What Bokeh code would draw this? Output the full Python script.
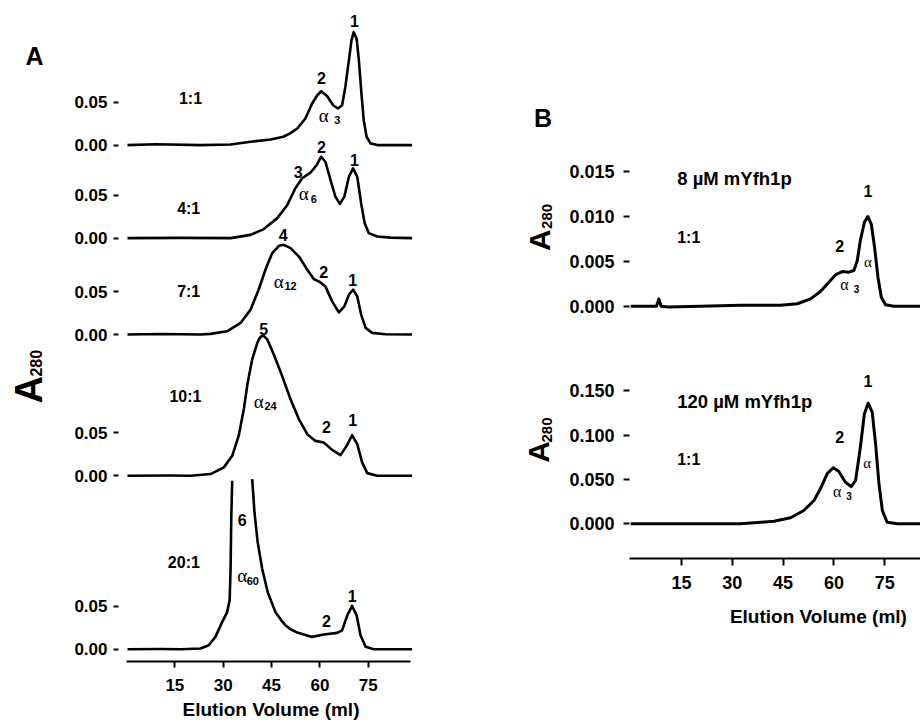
import numpy as np
from bokeh.plotting import figure
from bokeh.models import Range1d, FixedTicker, Label, NumeralTickFormatter
from bokeh.layouts import row, column
from bokeh.embed import file_html
from bokeh.resources import INLINE

SANS = "Liberation Sans"
SERIF = "Liberation Serif"

# ---------------- data: panel A (elution volume in ml, A280) ----------------
ratios = ["1:1", "4:1", "7:1", "10:1", "20:1"]
a_ticks_x = [15, 30, 45, 60, 75]

r1_x = [0.3, 9.0, 23.0, 32.3, 38.5, 44.7, 48.7, 50.9, 53.0, 55.5, 57.6, 59.2, 60.4, 62.3, 64.1,
        65.6, 66.9, 67.9, 69.0, 69.8, 70.5, 71.4, 72.1, 72.9, 73.6, 74.5, 75.7, 77.8, 88.6]
r1_y = [0.0, 0.001, 0.0, 0.0006, 0.0038, 0.0066, 0.0097, 0.014, 0.0194, 0.031, 0.0485, 0.0581,
        0.0628, 0.057, 0.0465, 0.0427, 0.0465, 0.0678, 0.0988, 0.1221, 0.1317, 0.1241, 0.0988,
        0.0601, 0.0291, 0.0097, 0.002, 0.0, 0.0]

r4_x = [0.3, 16.8, 32.3, 38.5, 42.6, 46.8, 49.9, 52.4, 54.5, 57.1, 59.0, 60.4, 61.7, 63.3, 64.8,
        66.2, 67.6, 69.0, 70.3, 71.6, 72.8, 73.9, 75.2, 77.8, 81.9, 88.6]
r4_y = [0.0, 0.0003, 0.0, 0.0038, 0.0105, 0.0233, 0.0387, 0.0581, 0.0698, 0.0763, 0.0852, 0.0949,
        0.0891, 0.0678, 0.0484, 0.0399, 0.0484, 0.0716, 0.0814, 0.0716, 0.0407, 0.0174, 0.0058,
        0.0019, 0.0006, 0.0]

r7_x = [0.3, 10.5, 23.0, 26.1, 31.2, 35.4, 38.5, 41.0, 43.1, 45.2, 47.3, 48.8, 50.9, 53.5, 56.1,
        58.1, 60.2, 61.7, 63.8, 65.9, 67.6, 69.0, 70.3, 71.6, 72.8, 74.2, 76.2, 80.4, 88.6]
r7_y = [0.0, 0.0006, 0.0, 0.0008, 0.0038, 0.0136, 0.0291, 0.0523, 0.0756, 0.095, 0.1035, 0.1047,
        0.1008, 0.091, 0.0756, 0.0648, 0.0608, 0.0562, 0.0387, 0.0259, 0.0329, 0.0465, 0.0523,
        0.0445, 0.0233, 0.0078, 0.002, 0.0003, 0.0]

r10_x = [0.3, 13.7, 19.9, 26.1, 30.2, 32.8, 34.8, 36.4, 37.6, 39.0, 40.6, 41.3, 42.1, 42.8, 43.7,
         45.7, 48.3, 50.9, 53.5, 56.1, 58.6, 61.2, 63.8, 66.4, 68.3, 70.0, 71.6, 73.1, 74.7, 77.8,
         88.6]
r10_y = [0.0, 0.0003, 0.0, 0.002, 0.0098, 0.0233, 0.0465, 0.0776, 0.1086, 0.1357, 0.1551, 0.1605,
         0.1636, 0.1624, 0.159, 0.1415, 0.1163, 0.0892, 0.0659, 0.0485, 0.0407, 0.0388, 0.0302,
         0.0241, 0.0349, 0.0473, 0.0369, 0.0156, 0.0031, 0.0, 0.0]

# the 20:1 main peak runs off scale (gap = off-scale part)
r20_x = [0.3, 10.5, 16.8, 23.0, 25.5, 27.6, 29.7, 31.2, 32.0, 32.3, 32.5, 32.8, np.nan,
         39.0, 39.7, 40.7, 42.1, 43.8, 46.2, 47.8, 49.3, 50.9, 53.0, 57.6, 61.2, 65.4, 66.9, 68.5,
         70.0, 71.4, 72.6, 74.2, 76.7, 88.6]
r20_y = [0.0, 0.0003, 0.0, 0.0008, 0.0047, 0.0144, 0.0319, 0.043, 0.057, 0.0938, 0.152, 0.1965,
         np.nan, 0.1985, 0.1598, 0.1249, 0.0938, 0.0667, 0.0435, 0.0349, 0.0279, 0.0233, 0.0194,
         0.0144, 0.0171, 0.0191, 0.0221, 0.0395, 0.0505, 0.0395, 0.0163, 0.0028, 0.0, 0.0]

# vertical stacking of the five traces (baseline of each trace)
offsets = [0.588, 0.4795, 0.367, 0.2023, 0.0]

# ---------------- data: panel B ----------------
b_ticks_x = [15, 30, 45, 60, 75]
b1_ticks_y = [0.0, 0.005, 0.010, 0.015]
b2_ticks_y = [0.0, 0.05, 0.10, 0.15]

b1_x = [0.0, 7.6, 8.3, 9.0, 11.0, 20.6, 32.4, 44.2, 49.2, 53.1, 56.0, 58.5, 60.5, 62.4, 64.4,
        65.9, 66.9, 67.8, 69.0, 70.0, 71.0, 72.0, 73.0, 74.0, 75.2, 77.7, 86.0]
b1_y = [0.0, 0.0, 0.0008, 0.0, -0.0001, 0.0, 0.0001, 0.0001, 0.00027, 0.00082, 0.00164, 0.00267,
        0.0035, 0.00386, 0.00379, 0.00398, 0.00509, 0.00732, 0.00935, 0.00999, 0.00918, 0.00657,
        0.00323, 0.001, 0.00016, 0.0, 0.0]

b2_x = [0.0, 14.7, 32.4, 42.3, 47.2, 51.1, 54.1, 56.0, 58.0, 59.8, 61.4, 63.4, 65.1, 66.4, 67.8,
        69.0, 70.1, 71.3, 72.3, 73.3, 74.3, 75.7, 78.7, 86.0]
b2_y = [0.0, 0.0, 0.0, 0.0029, 0.0068, 0.015, 0.0262, 0.0394, 0.0563, 0.0631, 0.0592, 0.0468,
        0.042, 0.0488, 0.0863, 0.1239, 0.1358, 0.1257, 0.0901, 0.045, 0.015, 0.0018, 0.0, 0.0]


def lab(p, x, y, text, size, font=SANS, style="bold", align="center", angle=0.0):
    p.add_layout(Label(x=x, y=y, text=text, text_font=font, text_font_size=f"{size}px",
                       text_font_style=style, text_align=align, text_baseline="middle",
                       angle=angle, text_color="black"))


def style_axis(ax, size=17):
    ax.major_label_text_font = SANS
    ax.major_label_text_font_style = "bold"
    ax.major_label_text_font_size = f"{size}px"
    ax.major_label_text_color = "black"
    ax.minor_tick_line_color = None
    ax.major_tick_line_width = 2
    ax.major_tick_line_color = "black"
    ax.major_tick_in = 0
    ax.axis_line_width = 2
    ax.axis_line_color = "black"


def clean(p):
    p.outline_line_color = None
    for g in p.grid:
        g.visible = False
    p.background_fill_color = "white"
    p.border_fill_color = "white"


def strip(w, h):
    s = figure(width=w, height=h, x_range=Range1d(0, w), y_range=Range1d(0, h),
               output_backend="svg", toolbar_location=None,
               x_axis_location=None, y_axis_location=None, min_border=0)
    clean(s)
    return s


UP = np.pi / 2

# ================= left strip for panel A (panel letter, y title) =================
SA_H = 722
sA = strip(60, SA_H)
lab(sA, 34, SA_H - 46, "A", 25)
lab(sA, 28.0, SA_H - 434.0, "A", 38, align="left", angle=UP)
lab(sA, 35.5, SA_H - 404.0, "280", 16, align="left", angle=UP)

# ================= Panel A =================
pA = figure(width=380, height=722, x_range=Range1d(-2.482, 92.15), y_range=Range1d(-0.0143, 0.7403),
            output_backend="svg", toolbar_location=None,
            min_border_left=58, min_border_right=17, min_border_top=14, min_border_bottom=59)
clean(pA)

traces = [(r1_x, r1_y), (r4_x, r4_y), (r7_x, r7_y), (r10_x, r10_y), (r20_x, r20_y)]
for (xs, ys), off in zip(traces, offsets):
    pA.line(np.array(xs, dtype=float), np.array(ys, dtype=float) + off, line_color="black",
            line_width=2.6, line_join="round")

yt = []
over = {}
for off in offsets:
    yt += [off, off + 0.05]
    over[off] = "0.00"
    over[off + 0.05] = "0.05"
pA.yaxis.ticker = FixedTicker(ticks=yt)
pA.yaxis.major_label_overrides = over
style_axis(pA.yaxis[0])
pA.yaxis.axis_line_color = None
pA.yaxis.major_tick_out = 5
pA.yaxis.major_label_standoff = 6

pA.xaxis.ticker = FixedTicker(ticks=a_ticks_x)
pA.xaxis.bounds = (0, 88.2)
style_axis(pA.xaxis[0])
pA.xaxis.major_tick_out = 6
pA.xaxis.major_label_standoff = 11
pA.xaxis.axis_label = "Elution Volume (ml)"
pA.xaxis.axis_label_text_font = SANS
pA.xaxis.axis_label_text_font_style = "bold"
pA.xaxis.axis_label_text_font_size = "19px"
pA.xaxis.axis_label_text_color = "black"
pA.xaxis.axis_label_standoff = 5

# ratio labels
ratio_pos = [(19.86, 0.0547), (19.3, 0.0341), (19.3, 0.0503), (18.3, 0.093), (17.8, 0.1016)]
for t, (x, y), off in zip(ratios, ratio_pos, offsets):
    lab(pA, x, off + y, t, 16)

# peak numbers: (trace index, ml, rel A, text)
peak_nums = [(0, 70.74, 0.1445, "1"), (0, 60.5, 0.0787, "2"),
             (1, 60.5, 0.1065, "2"), (1, 70.74, 0.091, "1"), (1, 53.3, 0.0774, "3"),
             (2, 48.6, 0.1163, "4"), (2, 61.2, 0.0724, "2"), (2, 70.2, 0.064, "1"),
             (3, 42.6, 0.1717, "5"), (3, 62.05, 0.0574, "2"), (3, 70.2, 0.0651, "1"),
             (4, 35.9, 0.1512, "6"), (4, 62.05, 0.033, "2"), (4, 70.0, 0.0621, "1")]
for i, x, y, t in peak_nums:
    lab(pA, x, offsets[i] + y, t, 16)

# alpha-n labels: (trace, ml alpha, rel A alpha, ml sub, rel A sub, subscript)
alphas = [(0, 61.2, 0.0349, 65.4, 0.0291, "3"),
          (1, 55.0, 0.0515, 58.1, 0.0457, "6"),
          (2, 47.25, 0.062, 50.9, 0.0562, "12"),
          (3, 41.05, 0.0872, 44.7, 0.0814, "24"),
          (4, 35.9, 0.086, 39.2, 0.0795, "60")]
for i, xa, ya, xs_, ys_, s in alphas:
    lab(pA, xa, offsets[i] + ya, "α", 19, font=SERIF, style="normal")
    lab(pA, xs_, offsets[i] + ys_, s, 11)

# ================= strip for panel B (panel letter, y titles) =================
SB_H = 638
sB = strip(120, SB_H)
lab(sB, 102.5, SB_H - 117.5, "B", 25)
lab(sB, 98.8, SB_H - 268.0, "A", 30, align="left", angle=UP)
lab(sB, 106.0, SB_H - 243.0, "280", 15, align="left", angle=UP)
lab(sB, 98.3, SB_H - 508.0, "A", 30, align="left", angle=UP)
lab(sB, 106.0, SB_H - 485.0, "280", 15, align="left", angle=UP)

# ================= Panel B =================
xrB = (-0.354, 85.56)
pB1 = figure(width=360, height=330, x_range=Range1d(*xrB), y_range=Range1d(-0.002706, 0.022906),
             output_backend="svg", toolbar_location=None, x_axis_location=None,
             min_border_left=69, min_border_right=0, min_border_top=100, min_border_bottom=0)
pB2 = figure(width=360, height=268, x_range=Range1d(*xrB), y_range=Range1d(-0.03908, 0.19516),
             output_backend="svg", toolbar_location=None,
             min_border_left=69, min_border_right=0, min_border_top=20, min_border_bottom=40)
for p in (pB1, pB2):
    clean(p)
    style_axis(p.yaxis[0], 18)
    p.yaxis.axis_line_color = None
    p.yaxis.major_tick_out = 6
    p.yaxis.major_label_standoff = 9
    p.yaxis.formatter = NumeralTickFormatter(format="0.000")

pB1.yaxis.ticker = FixedTicker(ticks=b1_ticks_y)
pB2.yaxis.ticker = FixedTicker(ticks=b2_ticks_y)

pB1.line(b1_x, b1_y, line_color="black", line_width=3, line_join="round")
pB2.line(b2_x, b2_y, line_color="black", line_width=3, line_join="round")

pB2.xaxis.ticker = FixedTicker(ticks=b_ticks_x)
style_axis(pB2.xaxis[0], 18)
pB2.xaxis.major_tick_out = 7
pB2.xaxis.major_label_standoff = 10

lab(pB1, 13.73, 0.01422, "8 µM mYfh1p", 18.5, align="left")
lab(pB1, 13.73, 0.0076, "1:1", 16, align="left")
lab(pB1, 61.74, 0.00665, "2", 16)
lab(pB1, 70.06, 0.01288, "1", 16)
lab(pB1, 70.06, 0.00492, "α", 15, font=SERIF, style="normal")
lab(pB1, 63.1, 0.00242, "α", 16, font=SERIF, style="normal")
lab(pB1, 66.67, 0.00188, "3", 10)

lab(pB2, 13.73, 0.1377, "120 µM mYfh1p", 18.5, align="left")
lab(pB2, 13.73, 0.0724, "1:1", 16, align="left")
lab(pB2, 61.74, 0.098, "2", 16)
lab(pB2, 70.06, 0.1606, "1", 16)
lab(pB2, 69.83, 0.069, "α", 15, font=SERIF, style="normal")
lab(pB2, 60.97, 0.036, "α", 16, font=SERIF, style="normal")
lab(pB2, 64.45, 0.0313, "3", 10)

# x title strip below panel B
sBt = strip(360, 40)
lab(sBt, 233.7, 40 - 18, "Elution Volume (ml)", 19)

layout = row(sA, pA, sB, column(pB1, pB2, sBt))
open("out.html", "w").write(file_html(layout, INLINE))
